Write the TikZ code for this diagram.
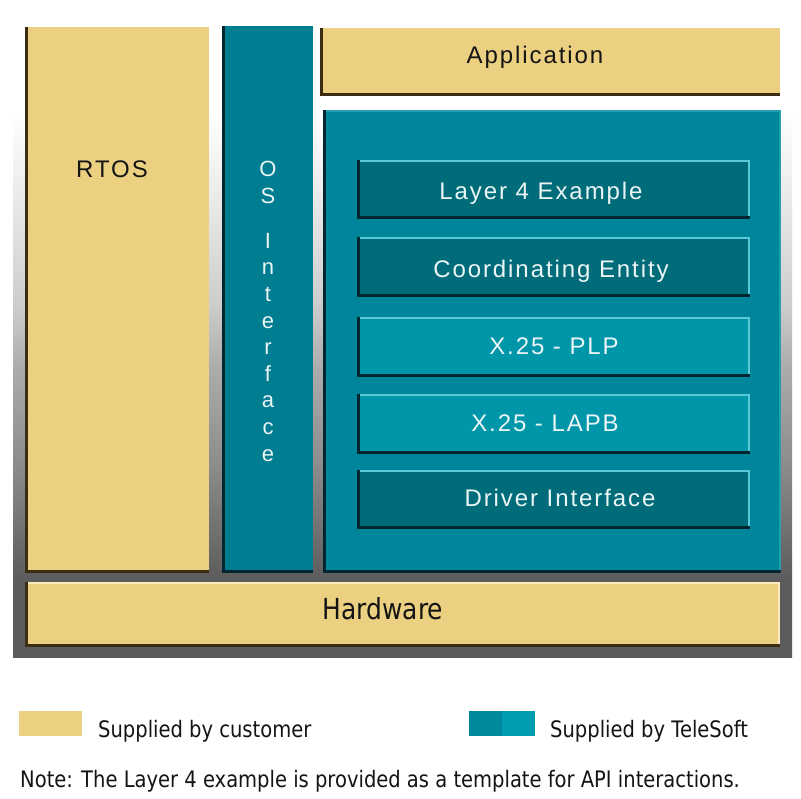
\documentclass[tikz,border=0pt]{standalone}
\usepackage{fontspec}
\setmainfont{Liberation Sans}
\newfontfamily\boxfont{Liberation Sans}[LetterSpace=8]
\newfontfamily\tahfont{DejaVu Sans}[FakeStretch=0.86]
\definecolor{beige}{RGB}{236,208,129}
\definecolor{beigedark}{RGB}{60,44,18}
\definecolor{beigelight}{RGB}{250,236,190}
\definecolor{tealos}{RGB}{0,125,145}
\definecolor{tealstack}{RGB}{0,134,154}
\definecolor{tealdk}{RGB}{0,108,122}
\definecolor{teallt}{RGB}{0,150,170}
\definecolor{tealedge}{RGB}{0,38,48}
\definecolor{tealhi}{RGB}{90,200,214}
\definecolor{labtxt}{RGB}{20,20,20}
\definecolor{labwhite}{RGB}{235,245,245}
\definecolor{gA}{RGB}{92,92,92}
\definecolor{gB}{RGB}{140,140,140}
\definecolor{gC}{RGB}{172,172,172}
\definecolor{gD}{RGB}{205,205,205}
\definecolor{gE}{RGB}{240,240,240}
\pgfdeclareverticalshading{bgshade}{100bp}{color(0bp)=(gA); color(25bp)=(gA); color(31bp)=(gA); color(40bp)=(gB); color(47.5bp)=(gC); color(52.5bp)=(gD); color(62.5bp)=(gE); color(67.5bp)=(white); color(100bp)=(white)}
\tikzset{
  blk/.style={inner sep=0pt, outer sep=0pt, anchor=north west, draw=none},
  cust/.style={blk, fill=beige},
  osbox/.style={blk, fill=tealos},
  stackbox/.style={blk, fill=tealstack},
  darkbox/.style={blk, fill=tealdk},
  lightbox/.style={blk, fill=teallt},
  lbl/.style={anchor=base, inner sep=0pt, font=\boxfont\fontsize{24}{28}\selectfont},
  tlbl/.style={anchor=base, inner sep=0pt, font=\tahfont\fontsize{22.7}{26}\selectfont, text=labtxt},
}
\newcommand\bevel[3]{%
  \draw[#3, line width=2pt] ([xshift=-1pt,yshift=-1pt]#1.north east) -- ([xshift=-1pt,yshift=1pt]#1.south east);
  \draw[#3, line width=2pt] ([yshift=-1pt]#1.north west) -- ([yshift=-1pt]#1.north east);
  \draw[#2, line width=3pt] ([xshift=1.5pt]#1.north west) -- ([xshift=1.5pt,yshift=1.5pt]#1.south west) -- ([yshift=1.5pt]#1.south east);
}
\begin{document}
\begin{tikzpicture}[x=1pt, y=-1pt]
\useasboundingbox (0,0) rectangle (801,799);
\fill[white] (0,0) rectangle (801,799);
\shade[shading=bgshade] (13,15) rectangle (792,657);

% customer boxes
\node[cust, minimum width=184pt, minimum height=546pt] (rtos) at (25,27) {};
\node[cust, minimum width=460pt, minimum height=68pt] (app) at (320,28) {};
\node[cust, minimum width=755pt, minimum height=65pt] (hw) at (25,582) {};
\bevel{rtos}{beigedark}{beige}
\bevel{app}{beigedark}{beige}
\bevel{hw}{beigedark}{beigelight}

% TeleSoft boxes
\node[osbox, minimum width=91pt, minimum height=547pt] (osif) at (222,26) {};
\bevel{osif}{tealedge}{tealos}
\node[stackbox, minimum width=458pt, minimum height=463pt] (stack) at (323,110) {};
\bevel{stack}{tealedge}{tealhi!40!tealstack}

\node[darkbox, minimum width=393pt, minimum height=59pt] (l4) at (357,160) {};
\node[darkbox, minimum width=393pt, minimum height=60pt] (coord) at (357,237) {};
\node[lightbox, minimum width=393pt, minimum height=60pt] (plp) at (357,317) {};
\node[lightbox, minimum width=393pt, minimum height=60pt] (lapb) at (357,394) {};
\node[darkbox, minimum width=393pt, minimum height=59pt] (drv) at (357,470) {};
\foreach \b in {l4,coord,plp,lapb,drv}{\bevel{\b}{tealedge}{tealhi}}

% labels
\node[lbl, text=labtxt] (rtost) at (112,178) {RTOS};
\node[lbl, text=labtxt] (appt) at (535,64) {Application};
\node[lbl, text=labwhite] (l4t) at (541,200) {Layer 4 Example};
\node[lbl, text=labwhite] (coordt) at (551,278) {Coordinating Entity};
\node[lbl, text=labwhite] (plpt) at (554,355) {X.25 - PLP};
\node[lbl, text=labwhite] (lapbt) at (545,432) {X.25 - LAPB};
\node[lbl, text=labwhite] (drvt) at (560,507) {Driver Interface};
\node[tlbl, font=\tahfont\fontsize{29}{32}\selectfont] (hwt) at (383,619) {Hardware};

\node[anchor=north, inner sep=0pt, text=labwhite, align=center,
      font=\fontspec{Liberation Sans}\fontsize{22}{26.6}\selectfont] (osift) at (268,161)
      {O\\S\\[18.5pt]I\\n\\t\\e\\r\\f\\a\\c\\e};

% legend
\node[blk, fill=beige, minimum width=63pt, minimum height=25pt] (legc) at (19,711) {};
\node[blk, fill={rgb,255:red,0;green,136;blue,155}, minimum width=33pt, minimum height=25pt] (legt1) at (469,711) {};
\node[blk, fill={rgb,255:red,0;green,157;blue,176}, minimum width=33pt, minimum height=25pt] (legt2) at (legt1.north east) {};
\node[tlbl, anchor=base west] (legct) at (98,737) {Supplied by customer};
\node[tlbl, anchor=base west] (legtt) at (550,737) {Supplied by TeleSoft};
\node[tlbl, anchor=base west] (note) at (20,787) {Note: The Layer 4 example is provided as a template for API interactions.};
\end{tikzpicture}
\end{document}
